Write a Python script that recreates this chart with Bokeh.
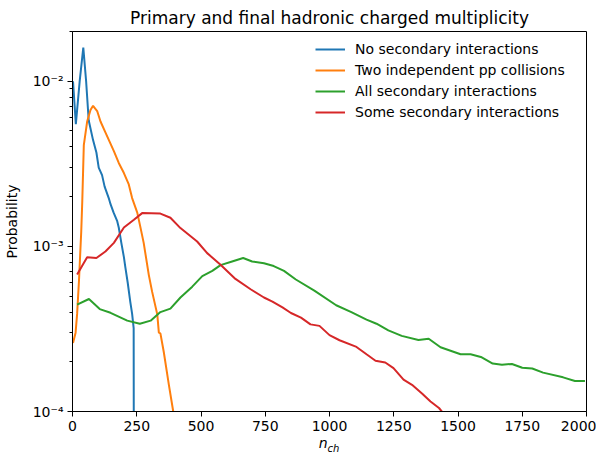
from bokeh.plotting import figure
from bokeh.models import (Range1d, FixedTicker, CustomJSTickFormatter, Legend, LegendItem, Div)
from bokeh.layouts import column
from bokeh.embed import file_html
from bokeh.resources import INLINE

title_text = "Primary and final hadronic charged multiplicity"
series_names = ["No secondary interactions", "Two independent pp collisions",
                "All secondary interactions", "Some secondary interactions"]
colors = ["#1f77b4", "#ff7f0e", "#2ca02c", "#d62728"]

x_ticks = [0, 250, 500, 750, 1000, 1250, 1500, 1750, 2000]
y_major = [1e-4, 1e-3, 1e-2]

no_sec_x = [2, 13, 28, 42, 53, 63, 80, 93, 102, 115, 125, 141, 148, 160, 174, 180, 190, 200, 206, 215, 225, 232, 238, 240]
no_sec_y = [1.0e-2, 5.5e-3, 1.0e-2, 1.6e-2, 1.0e-2, 5.8e-3, 4.4e-3, 3.7e-3, 3.0e-3, 2.7e-3, 2.3e-3,
            1.96e-3, 1.8e-3, 1.6e-3, 1.42e-3, 1.3e-3, 1.05e-3, 8.6e-4, 7.4e-4, 6.0e-4, 4.6e-4, 3.9e-4, 3.2e-4, 1e-6]

two_pp_x = [2, 12, 18, 25, 34, 38, 44, 57, 70, 80, 96, 109, 128, 161, 180, 200, 219, 232, 252, 265, 277,
            297, 310, 330, 336, 342, 355, 375, 392, 400]
two_pp_y = [2.6e-4, 3.0e-4, 3.9e-4, 6.1e-4, 1.23e-3, 1.87e-3, 4.1e-3, 5.7e-3, 6.7e-3, 7.1e-3, 6.6e-3,
            5.7e-3, 4.9e-3, 3.77e-3, 3.2e-3, 2.78e-3, 2.37e-3, 1.96e-3, 1.6e-3, 1.29e-3, 1.05e-3,
            6.7e-4, 5.3e-4, 3.86e-4, 3.0e-4, 2.97e-4, 2.3e-4, 1.45e-4, 1.0e-4, 8e-5]

all_sec_x = [18, 64, 106, 148, 213, 262, 304, 342, 381, 420, 466, 505, 544, 576, 621, 664, 699, 745,
             783, 823, 869, 941, 1026, 1085, 1144, 1183, 1229, 1281, 1346, 1386, 1432, 1510, 1549,
             1589, 1635, 1671, 1710, 1750, 1789, 1831, 1909, 1955, 1994]
all_sec_y = [4.44e-4, 4.8e-4, 4.17e-4, 3.96e-4, 3.55e-4, 3.4e-4, 3.55e-4, 4.0e-4, 4.2e-4, 4.9e-4,
             5.7e-4, 6.6e-4, 7.1e-4, 7.7e-4, 8.1e-4, 8.5e-4, 8.1e-4, 7.9e-4, 7.6e-4, 7.1e-4, 6.3e-4,
             5.4e-4, 4.4e-4, 4.0e-4, 3.6e-4, 3.4e-4, 3.1e-4, 2.87e-4, 2.71e-4, 2.76e-4, 2.45e-4,
             2.22e-4, 2.22e-4, 2.14e-4, 1.95e-4, 1.92e-4, 1.94e-4, 1.84e-4, 1.82e-4, 1.72e-4,
             1.61e-4, 1.53e-4, 1.53e-4]

some_sec_x = [18, 57, 93, 128, 161, 200, 239, 271, 342, 381, 420, 485, 524, 576, 634, 693, 745, 778,
              817, 850, 889, 926, 961, 1000, 1039, 1105, 1144, 1179, 1217, 1249, 1288, 1321, 1361,
              1393, 1426, 1461]
some_sec_y = [6.75e-4, 8.6e-4, 8.5e-4, 9.3e-4, 1.05e-3, 1.3e-3, 1.45e-3, 1.59e-3, 1.58e-3, 1.49e-3,
              1.29e-3, 1.07e-3, 9.1e-4, 7.74e-4, 6.35e-4, 5.5e-4, 4.9e-4, 4.63e-4, 4.27e-4, 3.95e-4,
              3.7e-4, 3.37e-4, 3.3e-4, 2.9e-4, 2.7e-4, 2.46e-4, 2.22e-4, 2.03e-4, 1.98e-4, 1.83e-4,
              1.56e-4, 1.45e-4, 1.28e-4, 1.15e-4, 1.05e-4, 9.0e-5]

FONT = "DejaVu Sans"

fig = figure(frame_width=514, frame_height=380, y_axis_type="log",
             x_range=Range1d(0, 2000), y_range=Range1d(1e-4, 2.0e-2),
             output_backend="svg", toolbar_location=None,
             min_border_left=64, min_border_right=10, min_border_top=31, min_border_bottom=25)

fig.title.text = title_text
fig.title.align = "center"
fig.title.text_font = FONT
fig.title.text_font_size = "17px"
fig.title.text_font_style = "normal"
fig.title.text_color = "black"
fig.title.standoff = 8

fig.xgrid.visible = False
fig.ygrid.visible = False
fig.outline_line_color = "black"
fig.outline_line_width = 1
fig.outline_line_alpha = 1

minor = []
for d in [1e-4, 1e-3, 1e-2]:
    for k in range(2, 10):
        minor.append(d * k)

fig.xaxis.ticker = FixedTicker(ticks=x_ticks, minor_ticks=[])
fig.yaxis.ticker = FixedTicker(ticks=y_major, minor_ticks=minor)
fig.yaxis.formatter = CustomJSTickFormatter(code="""
const e = Math.round(Math.log10(tick));
const sup = {"-":"\u207b","0":"\u2070","1":"\u00b9","2":"\u00b2","3":"\u00b3","4":"\u2074","5":"\u2075","6":"\u2076","7":"\u2077","8":"\u2078","9":"\u2079"};
return "10" + String(e).split("").map(c => sup[c]).join("");
""")

for ax in [fig.xaxis[0], fig.yaxis[0]]:
    ax.major_label_text_font = FONT
    ax.major_label_text_font_size = "14px"
    ax.major_label_text_color = "black"
    ax.major_tick_out = 5
    ax.major_tick_in = 0
    ax.minor_tick_out = 3
    ax.minor_tick_in = 0
    ax.axis_line_color = "black"
    ax.major_tick_line_color = "black"
    ax.minor_tick_line_color = "black"
    ax.axis_label_text_font = FONT
    ax.axis_label_text_font_size = "14px"
    ax.axis_label_text_font_style = "normal"
    ax.axis_label_text_color = "black"
    ax.major_label_standoff = 4

fig.yaxis.axis_label = "Probability"
fig.yaxis.axis_label_standoff = 10

items = []
for xs, ys, c, name in [(no_sec_x, no_sec_y, colors[0], series_names[0]),
                        (two_pp_x, two_pp_y, colors[1], series_names[1]),
                        (all_sec_x, all_sec_y, colors[2], series_names[2]),
                        (some_sec_x, some_sec_y, colors[3], series_names[3])]:
    r = fig.line(xs, ys, line_color=c, line_width=2)
    items.append(LegendItem(label=name, renderers=[r]))

legend = Legend(items=items, location=(238, 285), border_line_alpha=0,
                background_fill_alpha=0, padding=5, spacing=3,
                label_height=18, glyph_height=18, glyph_width=30, label_standoff=10,
                label_text_font=FONT, label_text_font_size="14px", label_text_color="black")
fig.add_layout(legend)

xlabel = Div(text='<span style="font-family:\'DejaVu Sans\'; font-size:14px; font-style:italic; color:black">'
                  'n<sub style="font-size:10px">ch</sub></span>',
             width=100, height=4, margin=(0, 0, 0, 279),
             styles={"text-align": "center", "overflow": "visible", "line-height": "14px"})

p = column(fig, xlabel, spacing=0)

open("out.html", "w").write(file_html(p, INLINE))
